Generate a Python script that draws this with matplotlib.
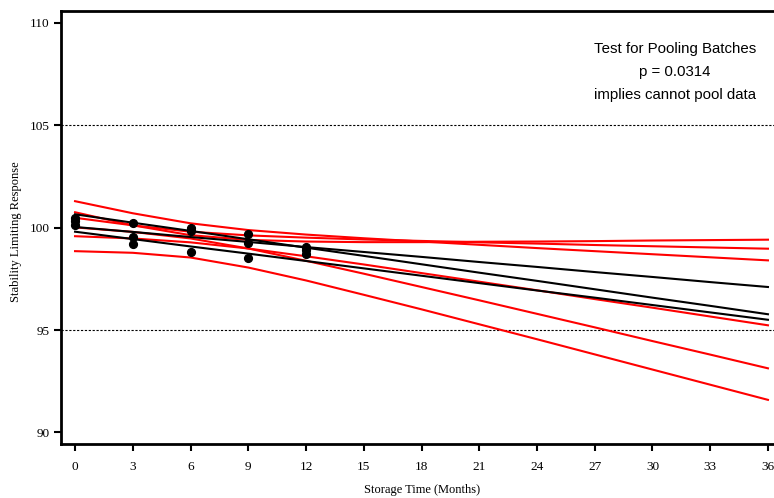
import matplotlib
matplotlib.use("Agg")
import matplotlib.pyplot as plt

# ---- data ----
months = [0, 3, 6, 9, 12, 15, 18, 21, 24, 27, 30, 33, 36]

fit_a = [100.65, 100.24, 99.84, 99.43, 99.02, 98.62, 98.21, 97.80, 97.40, 96.99, 96.58, 96.18, 95.77]
upper_a = [101.29, 100.70, 100.21, 99.88, 99.66, 99.48, 99.32, 99.16, 99.00, 98.85, 98.70, 98.55, 98.40]
lower_a = [100.01, 99.79, 99.47, 98.98, 98.38, 97.75, 97.10, 96.45, 95.79, 95.13, 94.46, 93.80, 93.13]

fit_b = [100.03, 99.79, 99.54, 99.30, 99.05, 98.81, 98.57, 98.32, 98.08, 97.83, 97.59, 97.34, 97.10]
upper_b = [100.48, 100.11, 99.80, 99.62, 99.51, 99.42, 99.35, 99.28, 99.22, 99.15, 99.09, 99.03, 98.97]
lower_b = [99.58, 99.47, 99.28, 98.98, 98.60, 98.20, 97.78, 97.36, 96.94, 96.51, 96.09, 95.66, 95.23]

fit_c = [99.80, 99.44, 99.08, 98.73, 98.37, 98.01, 97.65, 97.29, 96.93, 96.58, 96.22, 95.86, 95.50]
upper_c = [100.75, 100.11, 99.63, 99.40, 99.32, 99.29, 99.29, 99.31, 99.32, 99.34, 99.37, 99.39, 99.41]
lower_c = [98.85, 98.77, 98.54, 98.05, 97.42, 96.72, 96.01, 95.28, 94.55, 93.81, 93.07, 92.33, 91.59]

obs_time = [0, 0, 0, 3, 3, 3, 6, 6, 6, 9, 9, 9, 12, 12, 12]
obs_value = [100.45, 100.30, 100.14, 100.22, 99.56, 99.20, 100.00, 99.85, 98.80,
             99.67, 99.26, 98.50, 99.07, 98.90, 98.72]

xticks = [0, 3, 6, 9, 12, 15, 18, 21, 24, 27, 30, 33, 36]
yticks = [90, 95, 100, 105, 110]
spec_limits = [95, 105]

annotation = ["Test for Pooling Batches", "p = 0.0314", "implies cannot pool data"]

# ---- figure ----
fig = plt.figure(figsize=(7.74, 4.98), dpi=100)
ax = fig.add_axes([61 / 774, 1 - 444.3 / 498, 721 / 774, (444.3 - 10.7) / 498])
ax.set_xlim(-0.73, 36.73)
ax.set_ylim(89.42, 110.59)

for y in spec_limits:
    ax.axhline(y, color="black", lw=0.8, ls=(0, (2, 1.5)), zorder=1)

for band in (upper_a, lower_a, upper_b, lower_b, upper_c, lower_c):
    ax.plot(months, band, color="#ff0000", lw=1.5, zorder=2)
for fit in (fit_a, fit_b, fit_c):
    ax.plot(months, fit, color="black", lw=1.5, zorder=3)

ax.plot(obs_time, obs_value, "o", color="black", ms=5.6, zorder=4)

for side in ("left", "bottom", "top"):
    ax.spines[side].set_linewidth(2)
ax.spines["right"].set_visible(False)

ax.set_xticks(xticks)
ax.set_yticks(yticks)
ax.tick_params(direction="out", length=5, width=1.5)
ax.tick_params(axis="x", pad=7)
ax.tick_params(axis="y", pad=3)
for lab in ax.get_xticklabels() + ax.get_yticklabels():
    lab.set_fontfamily("Liberation Serif")
    lab.set_fontsize(9.5)

ax.set_xlabel("Storage Time (Months)", fontfamily="Liberation Serif", fontsize=9)
ax.set_ylabel("Stability Limiting Response", fontfamily="Liberation Serif", fontsize=9)
ax.xaxis.set_label_coords((422 - 61) / 721, (444.3 - 490) / 433.6)
ax.yaxis.set_label_coords((16 - 61) / 721, 0.49)
ax.xaxis.label.set_va("center")
ax.yaxis.label.set_va("center")

for i, line in enumerate(annotation):
    fig.text(675 / 774, 1 - (49.3 + 23 * i) / 498, line, ha="center", va="center",
             fontfamily="Liberation Sans", fontsize=10.8)

fig.savefig("out.png", dpi=100)
